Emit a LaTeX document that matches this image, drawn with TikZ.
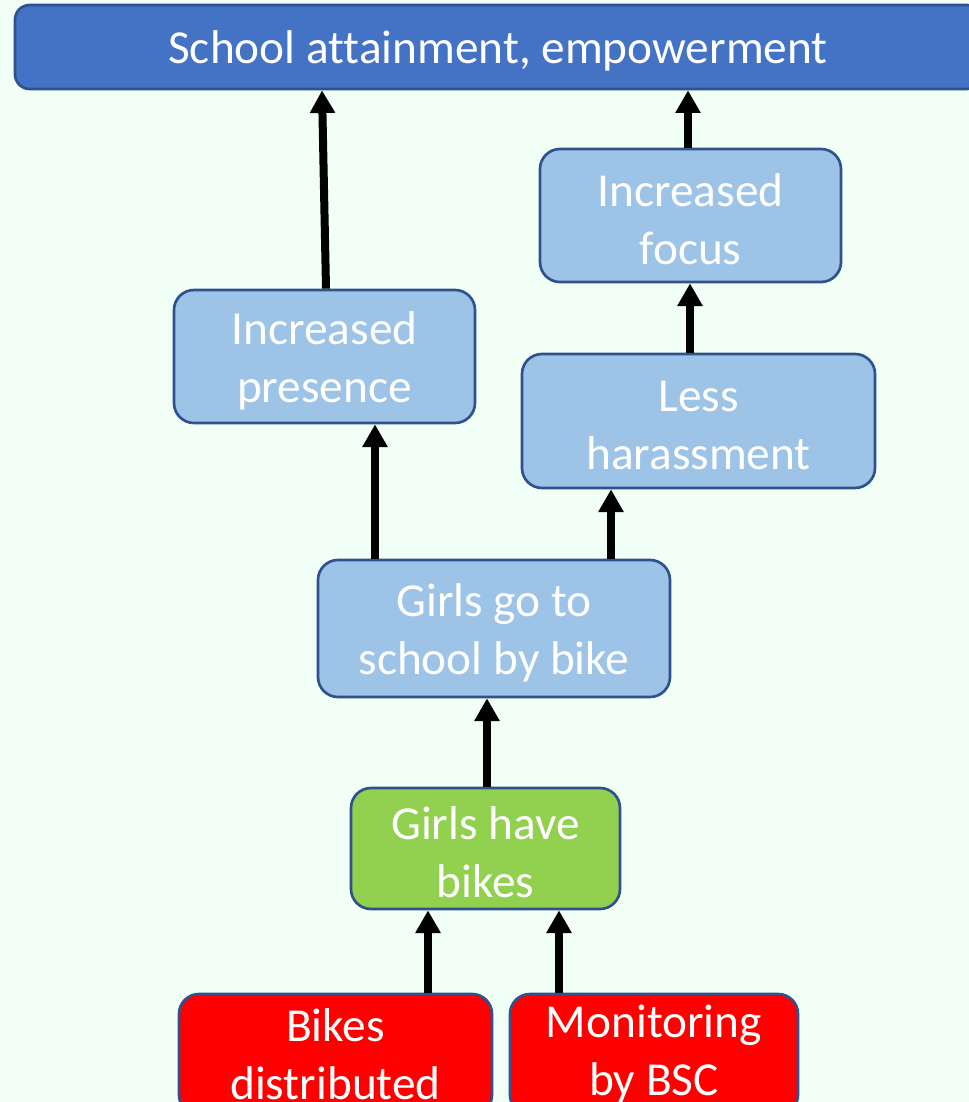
\documentclass[tikz,border=0pt]{standalone}
\usepackage{fontspec}
\setmainfont[Ligatures=NoCommon]{Carlito}
\usetikzlibrary{arrows.meta,calc}
\definecolor{bgc}{HTML}{F2FFF6}
\definecolor{topblue}{HTML}{4472C4}
\definecolor{edgeblue}{HTML}{2F528F}
\definecolor{lightblue}{HTML}{9DC3E6}
\definecolor{greenbox}{HTML}{92D050}
\definecolor{redbox}{HTML}{FF0000}
\begin{document}
\begin{tikzpicture}[x=0.75pt,y=-0.75pt,
  box/.style={draw=edgeblue,line width=2pt,rounded corners=15pt,inner sep=0pt},
  txt/.style={text=white,align=center,inner sep=0pt,yshift=-3pt,font=\fontsize{35.5}{43.5}\selectfont},
  bluebox/.style={box,fill=lightblue},
  arr/.style={line width=6pt,-{Triangle[width=18pt,length=17pt]}}]
\useasboundingbox (0,0) rectangle (969,1102);
\fill[bgc] (0,0) rectangle (969,1102);
\begin{scope}
\clip (0,0) rectangle (969,1102);
\node[box,fill=topblue,rounded corners=11pt,minimum width=966*0.75pt,minimum height=84*0.75pt,
  label={[txt]center:School attainment, empowerment}] (top) at (498,47) {};
\node[bluebox,minimum width=301*0.75pt,minimum height=133*0.75pt,
  label={[txt]center:{Increased\\presence}}] (pres) at (324.5,356.5) {};
\node[bluebox,minimum width=301*0.75pt,minimum height=133*0.75pt,
  label={[txt]center:{Increased\\focus}}] (focus) at (690.5,215.5) {};
\node[bluebox,minimum width=353*0.75pt,minimum height=134*0.75pt,
  label={[txt]center:{Less\\harassment}}] (har) at (698.5,421) {};
\node[bluebox,minimum width=352*0.75pt,minimum height=137*0.75pt,
  label={[txt]center:{Girls go to\\school by bike}}] (go) at (494,628.5) {};
\node[box,fill=greenbox,minimum width=269*0.75pt,minimum height=121*0.75pt,
  label={[txt]center:{Girls have\\bikes}}] (have) at (485.5,848.5) {};
\node[box,fill=redbox,minimum width=313*0.75pt,minimum height=121*0.75pt,
  label={[txt,yshift=3.5pt]center:{Bikes\\distributed}}] (dist) at (335.5,1054.5) {};
\node[box,fill=redbox,minimum width=288*0.75pt,minimum height=121*0.75pt,
  label={[txt,yshift=3.5pt]center:{Monitoring\\by BSC}}] (mon) at (654,1054.5) {};
\end{scope}
\draw[arr] ($(dist.north)+(92.5,0)$) -- ($(have.south)+(-57.5,0)$);
\draw[arr] ($(mon.north)+(-95,0)$) -- ($(have.south)+(73.5,0)$);
\draw[arr] ($(have.north)+(1.5,0)$) -- ($(go.south)+(-7,0)$);
\draw[arr] ($(go.north)+(-119,0)$) -- ($(pres.south)+(50.5,0)$);
\draw[arr] ($(go.north)+(117,0)$) -- ($(har.south)+(-87.5,0)$);
\draw[arr] ($(har.north)+(-8.5,0)$) -- ($(focus.south)+(-0.5,0)$);
\draw[arr] ($(focus.north)+(-2.5,0)$) -- ($(top.south)+(190,0)$);
\draw[arr] ($(pres.north)+(1.5,0)$) -- ($(top.south)+(-176,0)$);
\end{tikzpicture}
\end{document}
